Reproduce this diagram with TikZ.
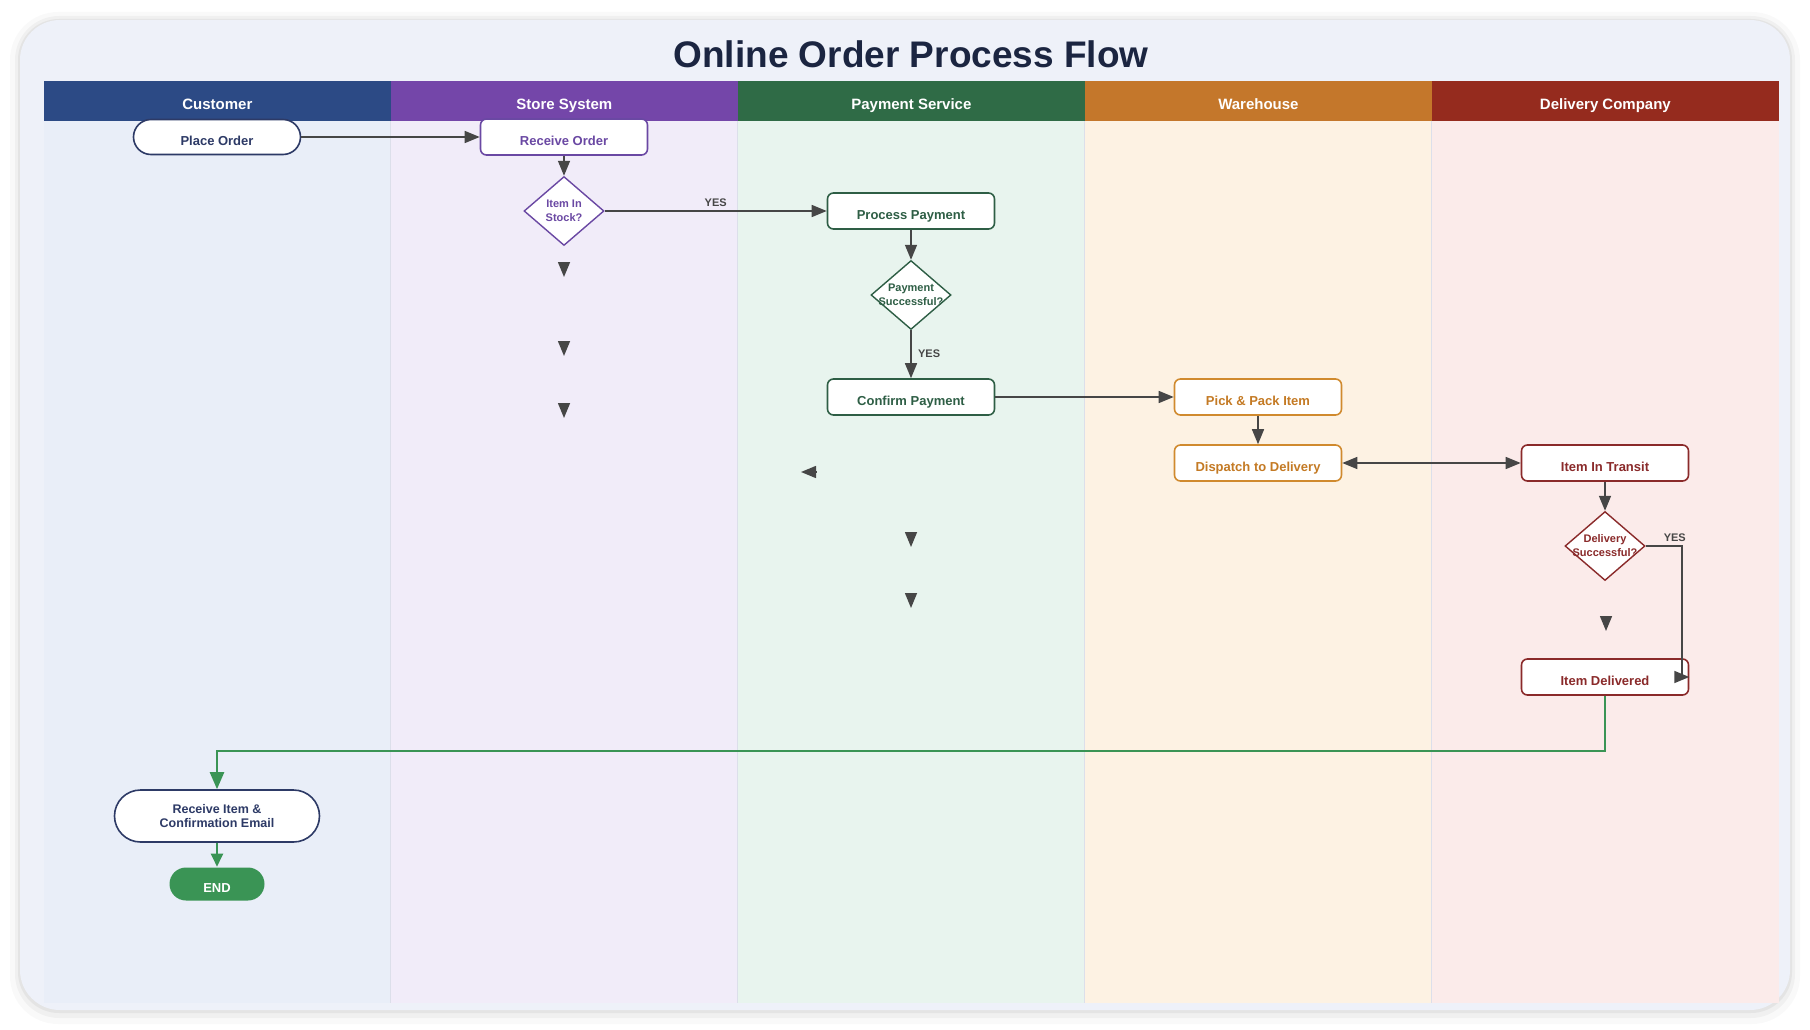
\documentclass[tikz,border=0pt]{standalone}
\usepackage{fontspec}
\setmainfont{Liberation Sans}
\usetikzlibrary{shapes,arrows,arrows.meta,positioning}
\definecolor{cardbg}{HTML}{EEF1F9}
\definecolor{titlenavy}{HTML}{1B2541}
\definecolor{flowgray}{HTML}{464646}
\definecolor{lanesep}{HTML}{DCDFEA}
\definecolor{flowgreen}{HTML}{3A9455}
\definecolor{custhead}{HTML}{2C4A85}
\definecolor{custbody}{HTML}{E9EEF8}
\definecolor{custline}{HTML}{2D3A66}
\definecolor{storehead}{HTML}{7446A9}
\definecolor{storebody}{HTML}{F1ECF9}
\definecolor{storeline}{HTML}{6A48A3}
\definecolor{payhead}{HTML}{2F6B46}
\definecolor{paybody}{HTML}{E8F4EE}
\definecolor{payline}{HTML}{2E5E45}
\definecolor{warehead}{HTML}{C4772B}
\definecolor{warebody}{HTML}{FDF2E3}
\definecolor{wareline}{HTML}{D08A2E}
\definecolor{waretxt}{HTML}{C47A24}
\definecolor{delhead}{HTML}{952B1E}
\definecolor{delbody}{HTML}{FBEBEA}
\definecolor{delline}{HTML}{8A2A2A}
\tikzstyle{title} = [text=titlenavy, font=\fontsize{37}{44}\selectfont\bfseries]
\tikzstyle{lanehead} = [rectangle, minimum width=347pt, minimum height=40pt, inner sep=0pt,
    text height=18pt, text depth=0pt, text=white, font=\fontsize{15}{18}\selectfont\bfseries]
\tikzstyle{block} = [rectangle, draw, fill=white, rounded corners=6pt, line width=1.6pt,
    minimum width=167pt, minimum height=36pt, text height=17pt, text depth=0pt,
    font=\fontsize{13}{16}\selectfont\bfseries]
\tikzstyle{terminal} = [block, rounded corners=17.5pt, minimum height=35pt]
\tikzstyle{decision} = [diamond, draw, fill=white, line width=1.4pt, inner sep=0pt,
    minimum width=80pt, minimum height=69pt]
\tikzstyle{dectext} = [align=center, font=\fontsize{11}{14}\selectfont\bfseries]
\tikzstyle{yes} = [text=flowgray, font=\fontsize{11}{13}\selectfont\bfseries]
\tikzstyle{line} = [draw=flowgray, line width=1.5pt, ->]
\tikzstyle{greenline} = [draw=flowgreen, line width=2.4pt, -{Triangle[length=17pt,width=14pt]}]
\tikzstyle{cust} = [draw=custline, text=custline]
\tikzstyle{store} = [draw=storeline, text=storeline]
\tikzstyle{pay} = [draw=payline, text=payline]
\tikzstyle{ware} = [draw=wareline, text=waretxt]
\tikzstyle{del} = [draw=delline, text=delline]

\begin{document}
\begin{tikzpicture}[x=1pt, y=-1pt, node distance=347pt, >={Triangle[length=15pt,width=12pt]}]
    \useasboundingbox (0,0) rectangle (1810,1030);
    % card and its shadow
    \fill[black, opacity=0.025, rounded corners=48pt] (10,12) rectangle (1800,1024);
    \fill[black, opacity=0.035, rounded corners=44pt] (15,16) rectangle (1795,1018);
    \fill[black, opacity=0.05, rounded corners=41pt] (18,19) rectangle (1792,1013);
    \fill[cardbg, rounded corners=40pt] (20,20) rectangle (1790,1010);
    \node[title] (title) at (911,54) {Online Order Process Flow};

    % swimlanes
    \node[lanehead, fill=custhead] (hcust) at (217.4,101) {Customer};
    \node[lanehead, fill=storehead, right of=hcust] (hstore) {Store System};
    \node[lanehead, fill=payhead, right of=hstore] (hpay) {Payment Service};
    \node[lanehead, fill=warehead, right of=hpay] (hware) {Warehouse};
    \node[lanehead, fill=delhead, right of=hware] (hdel) {Delivery Company};
    \fill[custbody] (hcust.south west) rectangle ++(347,882);
    \fill[storebody] (hstore.south west) rectangle ++(347,882);
    \fill[paybody] (hpay.south west) rectangle ++(347,882);
    \fill[warebody] (hware.south west) rectangle ++(347,882);
    \fill[delbody] (hdel.south west) rectangle ++(347,882);
    \draw[lanesep, line width=0.8pt] (hstore.south west) -- ++(0,882);
    \draw[lanesep, line width=0.8pt] (hpay.south west) -- ++(0,882);
    \draw[lanesep, line width=0.8pt] (hware.south west) -- ++(0,882);
    \draw[lanesep, line width=0.8pt] (hdel.south west) -- ++(0,882);

    % steps
    \node[terminal, cust] (place) at (217,137) {Place Order};
    \node[block, store, right of=place] (recv) {Receive Order};
    \node[decision, store, below of=recv, node distance=74pt,
        label={[dectext, text=storeline]center:Item In\\Stock?}] (stock) {};
    \node[block, pay, right of=stock] (procpay) {Process Payment};
    \node[decision, pay, below of=procpay, node distance=84pt,
        label={[dectext, text=payline]center:Payment\\Successful?}] (paysucc) {};
    \node[block, pay, below of=paysucc, node distance=102pt] (confpay) {Confirm Payment};
    \node[block, ware, right of=confpay] (pick) {Pick \& Pack Item};
    \node[block, ware, below of=pick, node distance=66pt] (dispatch) {Dispatch to Delivery};
    \node[block, del, right of=dispatch] (transit) {Item In Transit};
    \node[decision, del, below of=transit, node distance=83pt,
        label={[dectext, text=delline]center:Delivery\\Successful?}] (delsucc) {};
    \node[block, del, below of=delsucc, node distance=131pt] (delivered) {Item Delivered};
    \node[terminal, cust, rounded corners=26pt, minimum width=205pt, minimum height=52pt,
        align=center, text height=, text depth=, font=\fontsize{12.5}{14.5}\selectfont\bfseries]
        (rcvitem) at (217,816) {Receive Item \&\\Confirmation Email};
    \node[terminal, draw=none, fill=flowgreen, text=white, minimum width=95pt, minimum height=33pt,
        rounded corners=16.5pt, below of=rcvitem, node distance=68pt] (theend) {END};
    \coordinate (dturn) at (1682,546);

    % loose arrow tips
    \coordinate (stubA) at (564,262);
    \coordinate (stubB) at (564,341);
    \coordinate (stubC) at (564,403);
    \coordinate (stubD) at (816,472);
    \coordinate (stubE) at (911,532);
    \coordinate (stubF) at (911,593);
    \coordinate (stubG) at (1606,616);
    \draw[line] (stubA) -- ++(0,15);
    \draw[line] (stubB) -- ++(0,15);
    \draw[line] (stubC) -- ++(0,15);
    \draw[line] (stubD) -- ++(-15,0);
    \draw[line] (stubE) -- ++(0,15);
    \draw[line] (stubF) -- ++(0,15);
    \draw[line] (stubG) -- ++(0,15);

    % flow
    \draw[line] (place) -- (recv);
    \draw[line] (recv) -- (stock);
    \draw[line] (stock) -- node[yes, above] {YES} (procpay);
    \draw[line] (procpay) -- (paysucc);
    \draw[line] (paysucc) -- node[yes, right, xshift=3pt] {YES} (confpay);
    \draw[line] (confpay) -- (pick);
    \draw[line] (pick) -- (dispatch);
    \draw[line, <->] (dispatch) -- (transit);
    \draw[line] (transit) -- (delsucc);
    \draw[line] (delsucc) -- node[yes, above, pos=0.8] {YES} (dturn) |- (delivered.east);
    \draw[greenline] (delivered.south) -- ++(0,55) -| (rcvitem.north);
    \draw[greenline, -{Triangle[length=13pt,width=12pt]}] (rcvitem) -- (theend);
\end{tikzpicture}
\end{document}
